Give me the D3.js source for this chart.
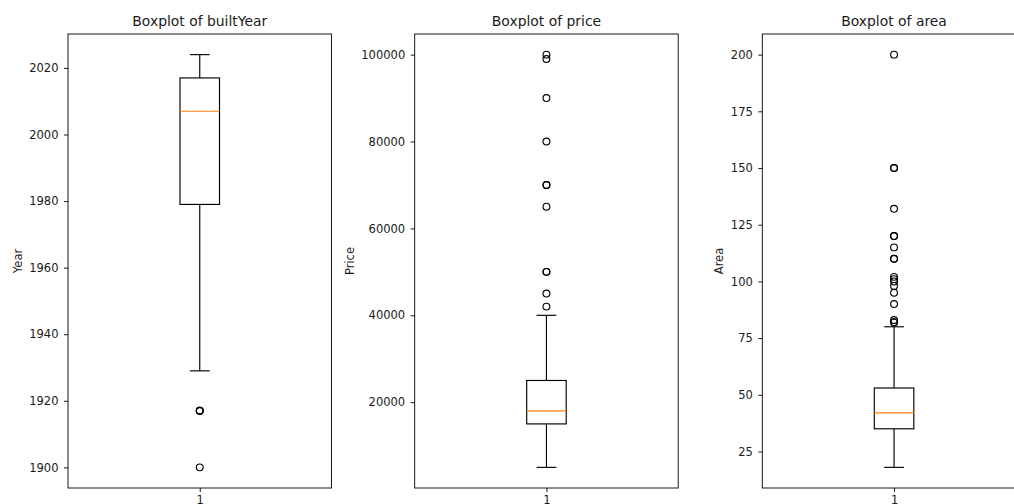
<!DOCTYPE html>
<html>
<head>
<meta charset="utf-8">
<script src="https://cdn.jsdelivr.net/npm/d3@7"></script>
<style>
html, body { margin: 0; padding: 0; background: #fff; overflow: hidden; }
svg { display: block; font-family: "DejaVu Sans", sans-serif; }
</style>
</head>
<body>
<svg id="chart" width="1014" height="504"></svg>
<script>
// ---- data ----
const titles = ["Boxplot of builtYear", "Boxplot of price", "Boxplot of area"];
const yLabels = ["Year", "Price", "Area"];
const categories = ["1"];
const whiskerLow = [1929, 5000, 18];
const q1Values = [1979, 15000, 35];
const medians = [2007, 18000, 42];
const q3Values = [2017, 25000, 53];
const whiskerHigh = [2024, 40000, 80];
const yearOutliers = [1917, 1917, 1917, 1900];
const priceOutliers = [100000, 99000, 90000, 80000, 70000, 70000, 65000, 50000, 50000, 45000, 42000];
const areaOutliers = [200, 150, 150, 132, 120, 120, 115, 110, 110, 102, 101, 100, 98, 95, 90, 83, 82, 82];
const yearTicks = [1900, 1920, 1940, 1960, 1980, 2000, 2020];
const priceTicks = [20000, 40000, 60000, 80000, 100000];
const areaTicks = [25, 50, 75, 100, 125, 150, 175, 200];

const outliers = [yearOutliers, priceOutliers, areaOutliers];
const tickSets = [yearTicks, priceTicks, areaTicks];

// ---- layout ----
const svg = d3.select("#chart");
const panelLefts = [68, 414.7, 762.3];
const panelWidth = 263.5;
const plotTop = 34, plotBottom = 488;
const tickFont = 11.5, titleFont = 13.9;

titles.forEach((title, i) => {
  const left = panelLefts[i];
  const all = [whiskerLow[i], whiskerHigh[i], ...outliers[i]];
  const lo = d3.min(all), hi = d3.max(all);
  const pad = (hi - lo) * 0.05;
  const y = d3.scaleLinear().domain([lo - pad, hi + pad]).range([plotBottom, plotTop]);
  const x = d3.scaleLinear().domain([0.5, 1.5]).range([left, left + panelWidth]);
  const g = svg.append("g");

  // box
  const bw = 0.15;
  const stroke = "#000";
  const lw = 1.15;
  g.append("rect")
    .attr("x", x(1 - bw / 2)).attr("y", y(q3Values[i]))
    .attr("width", x(1 + bw / 2) - x(1 - bw / 2))
    .attr("height", y(q1Values[i]) - y(q3Values[i]))
    .attr("fill", "none").attr("stroke", stroke).attr("stroke-width", lw);
  // whiskers
  g.append("line").attr("x1", x(1)).attr("x2", x(1))
    .attr("y1", y(q3Values[i])).attr("y2", y(whiskerHigh[i]))
    .attr("stroke", stroke).attr("stroke-width", lw);
  g.append("line").attr("x1", x(1)).attr("x2", x(1))
    .attr("y1", y(q1Values[i])).attr("y2", y(whiskerLow[i]))
    .attr("stroke", stroke).attr("stroke-width", lw);
  // caps
  [whiskerLow[i], whiskerHigh[i]].forEach(v => {
    g.append("line").attr("x1", x(1 - bw / 4)).attr("x2", x(1 + bw / 4))
      .attr("y1", y(v)).attr("y2", y(v))
      .attr("stroke", stroke).attr("stroke-width", lw);
  });
  // median
  g.append("line").attr("x1", x(1 - bw / 2)).attr("x2", x(1 + bw / 2))
    .attr("y1", y(medians[i])).attr("y2", y(medians[i]))
    .attr("stroke", "#ff7f0e").attr("stroke-width", lw);
  // fliers
  g.selectAll("circle.flier").data(outliers[i]).join("circle")
    .attr("class", "flier")
    .attr("cx", x(1)).attr("cy", d => y(d)).attr("r", 3.4)
    .attr("fill", "none").attr("stroke", "#000").attr("stroke-width", 1.15);

  // axes
  const yAxis = d3.axisLeft(y).tickValues(tickSets[i]).tickSize(4).tickPadding(5.5).tickFormat(d3.format("d"));
  const ya = g.append("g").attr("transform", `translate(${left},0)`).call(yAxis);
  const xAxis = d3.axisBottom(x).tickValues([1]).tickSize(4).tickPadding(4).tickFormat(() => categories[0]);
  const xa = g.append("g").attr("transform", `translate(0,${plotBottom})`).call(xAxis);
  [ya, xa].forEach(a => {
    a.select(".domain").remove();
    a.selectAll("line").attr("stroke", "#000").attr("stroke-width", 0.9);
    a.selectAll("text").attr("font-size", tickFont).attr("fill", "#1a1a1a")
      .attr("font-family", "DejaVu Sans, sans-serif");
  });

  // frame
  g.append("rect").attr("x", left).attr("y", plotTop)
    .attr("width", panelWidth).attr("height", plotBottom - plotTop)
    .attr("fill", "none").attr("stroke", "#000").attr("stroke-width", 0.9);

  // title
  g.append("text").attr("x", left + panelWidth / 2).attr("y", plotTop - 8)
    .attr("text-anchor", "middle").attr("font-size", titleFont).attr("fill", "#1a1a1a")
    .text(title);

  // y label
  const maxW = d3.max(ya.selectAll("text").nodes(), n => n.getBBox().width);
  const lx = left - 9.5 - maxW - 7.5;
  g.append("text")
    .attr("transform", `translate(${lx},${(plotTop + plotBottom) / 2}) rotate(-90)`)
    .attr("text-anchor", "middle").attr("font-size", tickFont).attr("fill", "#1a1a1a")
    .text(yLabels[i]);
});
</script>
</body>
</html>
